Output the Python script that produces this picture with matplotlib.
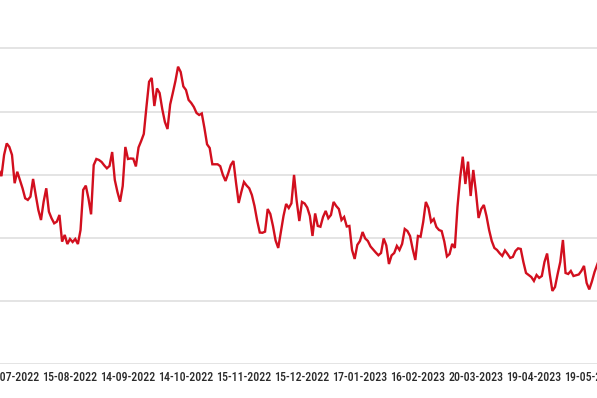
import matplotlib
matplotlib.use("Agg")
import matplotlib.pyplot as plt
from matplotlib import font_manager as fm
import numpy as np

# Daily values (trading-day index, 0 = 15-07-2022)
values = [
    25.39, 24.90, 26.58, 27.49, 27.21,
    26.58, 24.34, 25.25, 24.60, 23.94, 23.15, 23.02, 23.28, 24.68, 23.41,
    22.22, 21.43, 22.88, 23.94, 22.09, 21.57, 21.17, 21.30, 21.83, 19.72,
    20.25, 19.53, 19.93, 19.69, 19.93, 19.53, 20.64, 23.81, 24.15, 23.15,
    21.88, 25.78, 26.26, 26.18, 26.02, 25.75, 25.52, 25.71, 26.81, 24.60,
    23.65, 22.88, 24.12, 27.21, 26.26, 26.30, 26.28, 25.67, 27.17, 27.68,
    28.24, 30.37, 32.37, 32.67, 30.45, 31.84, 31.48, 30.21, 29.19, 28.63,
    30.57, 31.48, 32.43, 33.56, 33.14, 32.00, 31.72, 30.93, 30.69, 30.37,
    29.90, 29.74, 29.86, 28.71, 27.42, 27.13, 25.84, 25.84, 25.84, 25.69,
    25.00, 24.52, 25.11, 25.78, 26.10, 24.36, 22.78, 23.65, 24.44, 24.16,
    23.94, 23.41, 22.54, 21.39, 20.44, 20.42, 20.51, 22.30, 21.91, 20.96,
    19.81, 19.22, 20.48, 21.75, 22.70, 22.38, 22.75, 25.00, 22.94, 21.35,
    22.86, 22.74, 22.42, 21.75, 20.17, 21.95, 20.96, 20.90, 21.67, 22.15,
    21.57, 21.83, 22.86, 22.54, 22.30, 21.43, 21.67, 20.92, 20.96, 19.06,
    18.35, 19.46, 19.77, 20.48, 19.97, 19.77, 19.34, 19.10, 18.86, 18.64,
    18.82, 19.97, 19.42, 17.95, 18.63, 18.82, 19.38, 19.06, 19.54, 20.72,
    20.56, 20.17, 19.14, 18.27, 20.17, 20.11, 21.28, 22.86, 22.38, 21.28,
    21.51, 20.88, 20.64, 20.56, 19.73, 18.55, 18.74, 19.54, 19.22, 22.46,
    24.76, 26.44, 24.28, 26.05, 23.33, 25.39, 23.65, 21.59, 22.30, 22.62,
    21.75, 20.64, 19.77, 19.22, 19.06, 18.80, 18.59, 19.02, 18.74, 18.43,
    18.51, 18.98, 19.19, 19.14, 18.11, 17.24, 17.08, 16.92, 16.61, 17.08,
    16.85, 17.00, 18.11, 18.78, 17.16, 15.82, 16.13, 17.16, 18.11, 19.85,
    17.24, 17.16, 17.40, 17.00, 17.06, 17.12, 17.40, 17.80, 16.45, 15.94,
    16.57, 17.32, 17.91, 18.43,
]
first_index = -5
tick_index = [0, 22, 44, 66, 88, 110, 132, 154, 176, 198, 220]
tick_labels = ["15-07-2022", "15-08-2022", "14-09-2022", "14-10-2022",
               "15-11-2022", "15-12-2022", "17-01-2023", "16-02-2023",
               "20-03-2023", "19-04-2023", "19-05-2023"]
grid_values = [10, 15, 20, 25, 30, 35]

days = np.arange(first_index, first_index + len(values))

# pick a condensed face if one is installed
fonts = fm.fontManager.ttflist
names = {f.name for f in fonts}
label_font = dict(family=["Roboto", "DejaVu Sans"], fontsize=7.0, fontweight="medium")
if "Roboto Condensed" in names:
    label_font = dict(family=["Roboto Condensed", "DejaVu Sans"], fontsize=8.6, fontweight="medium")
elif "Liberation Sans Narrow" in names:
    label_font = dict(family=["Liberation Sans Narrow", "DejaVu Sans"], fontsize=8.6, fontweight="bold")
elif any(f.name == "DejaVu Sans" and str(f.stretch) in ("condensed", "semi-condensed", "75", "87")
         for f in fonts):
    label_font = dict(family=["DejaVu Sans"], fontstretch="condensed", fontsize=7.6, fontweight="bold")

fig = plt.figure(figsize=(5.97, 3.98), dpi=100)
ax = fig.add_axes([0.0, 0.0842, 1.0, 0.8257])
ax.plot(days, values, color="#d20f1e", lw=1.7, solid_joinstyle="miter", zorder=3)

ax.set_xlim(-4.552, 221.93)
ax.set_ylim(10, 36)
ax.set_yticks(grid_values)
ax.yaxis.grid(True, color="#e2e2e2", lw=1.3)
ax.tick_params(axis="y", length=0, labelleft=False)
ax.set_xticks(tick_index)
ax.set_xticklabels(tick_labels, color="#2b2b2b", **label_font)
ax.tick_params(axis="x", length=0, pad=5)
for s in ax.spines.values():
    s.set_visible(False)

fig.savefig("out.png", dpi=100)
